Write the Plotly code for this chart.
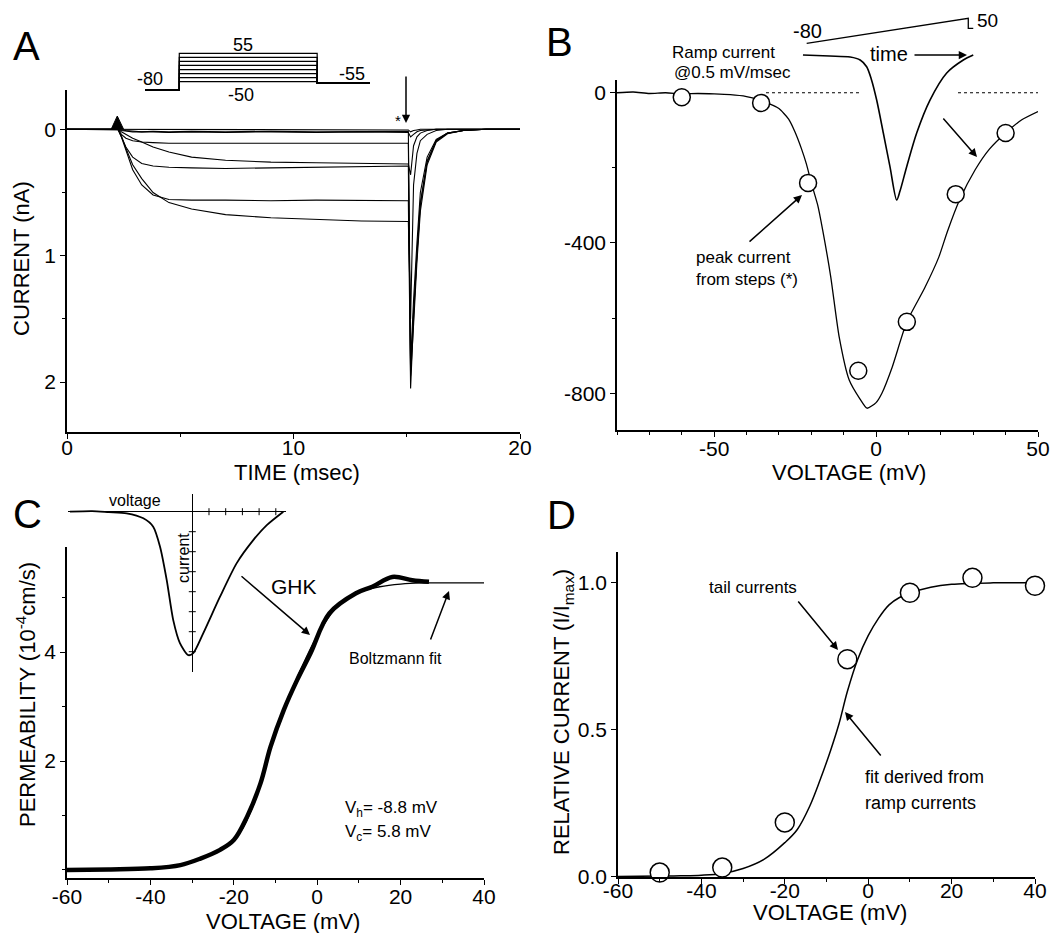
import plotly.graph_objects as go

# the page body adds an 8px margin, so the figure is drawn 8px smaller and positions are shifted
OFF = 8
W, H = 1062 - OFF, 933 - OFF
FONT = "Liberation Sans, Arial, Helvetica, sans-serif"

def px(x):
    return (x - OFF) / W

def py(y):
    return 1 - (y - OFF) / H

# ---------------- Panel A : currents (nA) vs time (ms) ----------------
T_A = [0, 2.0, 2.25, 2.4, 2.6, 2.9, 3.3, 3.8, 4.5, 5.5, 7.0, 9.0, 11.0, 13.0,
       15.07, 15.17, 15.22, 15.3, 15.45, 15.6, 15.9, 16.3, 16.8, 17.5, 18.5, 20.0]
I_STEP_M50 = [0, 0, 0, 0, 0, 0, 0, 0.005, 0, 0.005, 0, 0.005, 0, 0.005, 0.005,
              0.02, 0.015, 0.01, 0.005, 0, 0, 0, 0, 0, 0, 0]
I_STEP_M35 = [0, 0, 0, 0.005, 0.01, 0.015, 0.02, 0.02, 0.025, 0.02, 0.025, 0.02, 0.025, 0.02, 0.025,
              0.06, 0.05, 0.04, 0.02, 0.01, 0.005, 0, 0, 0, 0, 0]
I_STEP_M20 = [0, 0, 0, 0.02, 0.04, 0.07, 0.10, 0.14, 0.18, 0.22, 0.245, 0.26, 0.265, 0.27, 0.275,
              0.36, 0.25, 0.13, 0.06, 0.03, 0.01, 0, 0, 0, 0, 0]
I_STEP_M5 = [0, 0, 0, 0.05, 0.15, 0.28, 0.39, 0.50, 0.58, 0.63, 0.675, 0.70, 0.715, 0.725, 0.73,
             1.5, 1.09, 0.44, 0.19, 0.09, 0.04, 0.01, 0, 0, 0, 0]
I_STEP_10 = [0, 0, 0, 0.06, 0.17, 0.32, 0.44, 0.52, 0.555, 0.56, 0.56, 0.565, 0.56, 0.565, 0.565,
             2.05, 1.8, 1.5, 0.98, 0.58, 0.25, 0.09, 0.03, 0.01, 0, 0]
I_STEP_25 = [0, 0, 0, 0.06, 0.14, 0.22, 0.27, 0.29, 0.30, 0.305, 0.31, 0.305, 0.30, 0.295, 0.29,
             1.95, 1.75, 1.55, 1.05, 0.65, 0.28, 0.10, 0.035, 0.01, 0, 0]
I_STEP_40 = [0, 0, 0, 0.04, 0.07, 0.09, 0.10, 0.105, 0.11, 0.11, 0.11, 0.11, 0.11, 0.11, 0.11,
             1.9, 1.7, 1.45, 1.0, 0.6, 0.26, 0.09, 0.03, 0.01, 0, 0]
I_STEP_55 = [0, 0, 0, 0.01, 0.015, 0.02, 0.02, 0.015, 0.02, 0.015, 0.02, 0.015, 0.02, 0.015, 0.015,
             1.85, 1.6, 1.35, 0.9, 0.5, 0.22, 0.08, 0.03, 0.01, 0, 0]
A_TRACES = [I_STEP_M50, I_STEP_M35, I_STEP_M20, I_STEP_M5, I_STEP_10, I_STEP_25, I_STEP_40, I_STEP_55]
ARTIFACT_T = [1.95, 2.22, 2.5]
ARTIFACT_I = [0, -0.105, 0]

# protocol (inset of A)
PROTO_LEVELS = [-50, -35, -20, -5, 10, 25, 40, 55]
PROTO_HOLD = -80
PROTO_TAIL = -55
PROTO_TIMES = [-1.0, 2.2, 15.07, 20.0]

# ---------------- Panel B : ramp I-V (pA vs mV) ----------------
B_V = [-80, -75, -70, -65, -60, -55, -50, -45, -40, -37, -35, -32, -30, -27, -25, -23, -21.5, -20,
       -18, -16.5, -14, -11.4, -8.3, -5, -2.8, 0, 1.8, 5, 9.5, 15, 19.4, 22, 25.8, 30.6, 35, 40, 45, 50]
B_I = [0, 2, -2, 0, -3, -2, -3, -5, -10, -16, -22, -33, -42, -70, -105, -150, -190, -240,
       -300, -365, -490, -650, -765, -815, -840, -825, -800, -730, -610, -520, -437, -370, -285,
       -205, -150, -107, -72, -50]
B_STEP_V = [-60, -35.5, -21, -5.5, 9.5, 24.6, 40]
B_STEP_I = [-12, -27, -240, -740, -610, -270, -107]
B_ZERO_V = [-34, -4.5, None, 25.3, 50]
B_ZERO_I = [0, 0, None, 0, 0]
# inset: ramp current vs time (ms) and ramp voltage
INSET_B_T = [-6, 37, 70, 86, 96.5, 104, 112.6, 123.3, 134, 144.8, 150, 160.9, 177, 198.4, 225.3, 252, 268]
INSET_B_I = [0, -6, -12, -29, -68, -140, -261, -452, -647, -840, -790, -647, -452, -261, -104, -29, 0]
RAMP_T = [0, 260, 260, 268]
RAMP_V = [-80, 50, -2, -2]

# ---------------- Panel C : permeability ----------------
C_V = [-60, -50, -40, -32.8, -28, -23.3, -20, -16.8, -13.6, -11.2, -8, -4.8, -1.6, 2.9, 9.3,
       13.2, 18, 22.8, 26.8]
C_P = [0.0, 0.01, 0.03, 0.09, 0.21, 0.37, 0.55, 0.98, 1.59, 2.26, 2.94, 3.49, 3.98, 4.71, 5.08,
       5.2, 5.38, 5.32, 5.29]
C_FIT_V = [-60, -40, -30, -20, -15, -10, -5, 0, 5, 10, 15, 20, 25, 30, 35, 40]
C_FIT_P = [0.0, 0.03, 0.15, 0.55, 1.25, 2.55, 3.5, 4.3, 4.85, 5.1, 5.2, 5.25, 5.27, 5.27, 5.27, 5.27]
# inset of C: I-V with crossing axes
INSET_C_V = [-73.2, -60, -50, -39.3, -29.3, -23.4, -19.3, -15.3, -11.4, -7.4, -2.4, 0.6, 6.6, 16.6,
             26.6, 36.5, 44.6, 54.5]
INSET_C_I = [0, 3, -2, -8, -33, -75, -175, -342, -542, -657, -717, -707, -607, -425, -257, -142, -67, 0]
INSET_C_VTICKS = [10, 20, 30, 40, 50]
INSET_C_ITICKS = [-100, -200, -300, -400, -500, -600, -700]

# ---------------- Panel D : relative tail current ----------------
D_STEP_V = [-50, -35, -20, -5, 10, 25, 40]
D_TAIL = [0.013, 0.03, 0.184, 0.74, 0.966, 1.017, 0.99]
D_FIT_V = [-60, -50, -45, -40, -35, -30, -25, -20, -17, -14, -11.5, -9, -7, -5, -2.5, 0, 2.5, 5,
           7.5, 10, 15, 20, 30, 40]
D_FIT_R = [0.0, 0.001, 0.002, 0.004, 0.01, 0.027, 0.058, 0.115, 0.16, 0.24, 0.33, 0.43, 0.52, 0.63,
           0.74, 0.82, 0.88, 0.925, 0.95, 0.965, 0.985, 0.995, 1.0, 1.0]

# tick labels
A_XTICKS = [0, 10, 20]
A_YTICKS = [0, 1, 2]
B_XTICKS = [-50, 0, 50]
B_YTICKS = [0, -400, -800]
C_XTICKS = [-60, -40, -20, 0, 20, 40]
C_YTICKS = [2, 4]
D_XTICKS = [-60, -40, -20, 0, 20, 40]
D_YTICKS = [0.0, 0.5, 1.0]


def lab(v, fmt="{:g}"):
    s = fmt.format(abs(v))
    return ("-" + s) if v < 0 else s


fig = go.Figure()
BLACK = "black"

# Panel A traces
for series in A_TRACES:
    fig.add_trace(go.Scatter(x=T_A, y=series, mode="lines", line=dict(color=BLACK, width=1.1),
                             xaxis="x", yaxis="y", hoverinfo="skip"))
fig.add_trace(go.Scatter(x=ARTIFACT_T, y=ARTIFACT_I, mode="lines", fill="toself", fillcolor=BLACK,
                         line=dict(color=BLACK, width=1), xaxis="x", yaxis="y"))
# protocol inset
for lvl in PROTO_LEVELS:
    fig.add_trace(go.Scatter(
        x=[PROTO_TIMES[0], PROTO_TIMES[1], PROTO_TIMES[1], PROTO_TIMES[2], PROTO_TIMES[2], PROTO_TIMES[3]],
        y=[PROTO_HOLD, PROTO_HOLD, lvl, lvl, PROTO_TAIL, PROTO_TAIL],
        mode="lines", line=dict(color=BLACK, width=1.2), xaxis="x5", yaxis="y5"))

# Panel B
fig.add_trace(go.Scatter(x=B_ZERO_V, y=B_ZERO_I, mode="lines", line=dict(color=BLACK, width=1.2, dash="dot"),
                         xaxis="x2", yaxis="y2"))
fig.add_trace(go.Scatter(x=B_V, y=B_I, mode="lines", line=dict(color=BLACK, width=1.3, shape="spline", smoothing=0.6),
                         xaxis="x2", yaxis="y2"))
fig.add_trace(go.Scatter(x=B_STEP_V, y=B_STEP_I, mode="markers", cliponaxis=False,
                         marker=dict(symbol="circle", size=17, color="white", line=dict(color=BLACK, width=1.5)),
                         xaxis="x2", yaxis="y2"))
fig.add_trace(go.Scatter(x=INSET_B_T, y=INSET_B_I, mode="lines",
                         line=dict(color=BLACK, width=1.6, shape="spline", smoothing=0.8),
                         xaxis="x6", yaxis="y6"))
fig.add_trace(go.Scatter(x=RAMP_T, y=RAMP_V, mode="lines", line=dict(color=BLACK, width=1.3),
                         xaxis="x7", yaxis="y7"))

# Panel C
fig.add_trace(go.Scatter(x=C_FIT_V, y=C_FIT_P, mode="lines", line=dict(color=BLACK, width=1.3, shape="spline"),
                         xaxis="x3", yaxis="y3"))
fig.add_trace(go.Scatter(x=C_V, y=C_P, mode="lines", line=dict(color=BLACK, width=4.5, shape="spline"),
                         xaxis="x3", yaxis="y3"))
fig.add_trace(go.Scatter(x=INSET_C_V, y=INSET_C_I, mode="lines",
                         line=dict(color=BLACK, width=1.8, shape="spline", smoothing=0.7),
                         xaxis="x8", yaxis="y8"))
fig.add_trace(go.Scatter(x=INSET_C_VTICKS, y=[0] * len(INSET_C_VTICKS), mode="markers",
                         marker=dict(symbol="line-ns", size=5, line=dict(color=BLACK, width=1)),
                         xaxis="x8", yaxis="y8"))
fig.add_trace(go.Scatter(x=[0] * len(INSET_C_ITICKS), y=INSET_C_ITICKS, mode="markers",
                         marker=dict(symbol="line-ew", size=5, line=dict(color=BLACK, width=1)),
                         xaxis="x8", yaxis="y8"))

# Panel D
fig.add_trace(go.Scatter(x=D_FIT_V, y=D_FIT_R, mode="lines", line=dict(color=BLACK, width=1.5, shape="spline"),
                         xaxis="x4", yaxis="y4"))
fig.add_trace(go.Scatter(x=D_STEP_V, y=D_TAIL, mode="markers", cliponaxis=False,
                         marker=dict(symbol="circle", size=19, color="white", line=dict(color=BLACK, width=1.5)),
                         xaxis="x4", yaxis="y4"))

TICKFONT = dict(family=FONT, size=21, color=BLACK)


def main_axis(dom, rng, tickvals, ticktext, minor_vals, anchor, standoff=0):
    return dict(domain=dom, range=rng, anchor=anchor, showline=True, linecolor=BLACK, linewidth=1.5,
                showgrid=False, zeroline=False, ticks="outside", ticklen=5, tickwidth=1.3, tickcolor=BLACK,
                tickmode="array", tickvals=tickvals, ticktext=ticktext, tickfont=TICKFONT,
                ticklabelstandoff=standoff, automargin=False,
                minor=dict(tickmode="array", tickvals=minor_vals, ticks="outside", ticklen=3,
                           tickwidth=1, tickcolor=BLACK),
                fixedrange=True)


def hidden_axis(dom, rng, anchor):
    return dict(domain=dom, range=rng, anchor=anchor, visible=False, automargin=False, fixedrange=True)


layout = dict(
    width=W, height=H, margin=dict(l=0, r=0, t=0, b=0, pad=0, autoexpand=False), showlegend=False,
    paper_bgcolor="white", plot_bgcolor="rgba(0,0,0,0)",
    font=dict(family=FONT, color=BLACK),
)

# Panel A axes (y reversed: inward current plotted downward)
layout["xaxis"] = main_axis([px(67), px(520)], [0, 20], A_XTICKS, [lab(v) for v in A_XTICKS], [5, 15], "y", -9)
layout["yaxis"] = main_axis([py(432), py(90)], [2.395, -0.311], A_YTICKS, [lab(v) for v in A_YTICKS],
                            [0.5, 1.5], "x")
# Panel B axes
layout["xaxis2"] = main_axis([px(617), px(1038)], [-80, 50], B_XTICKS, [lab(v) for v in B_XTICKS],
                             [-80, -70, -60, -40, -30, -20, -10, 10, 20, 30, 40], "y2", -6)
layout["yaxis2"] = main_axis([py(430), py(80)], [-898, 34], B_YTICKS, [lab(v) for v in B_YTICKS],
                             [-200, -600], "x2")
# Panel C axes
layout["xaxis3"] = main_axis([px(67), px(484)], [-60, 40], C_XTICKS, [lab(v) for v in C_XTICKS],
                             [-50, -30, -10, 10, 30], "y3", -6)
layout["yaxis3"] = main_axis([py(878), py(547)], [-0.147, 5.93], C_YTICKS, [lab(v) for v in C_YTICKS],
                             [0, 1, 3, 5], "x3")
# Panel D axes
layout["xaxis4"] = main_axis([px(618), px(1035)], [-60, 40], D_XTICKS, [lab(v) for v in D_XTICKS],
                             [-50, -30, -10, 10, 30], "y4", -11)
layout["yaxis4"] = main_axis([py(877), py(552)], [-0.002, 1.105], D_YTICKS,
                             [lab(v, "{:.1f}") for v in D_YTICKS], [], "x4")
# inset axes
layout["xaxis5"] = hidden_axis([px(145), px(370)], [-1, 20], "y5")
layout["yaxis5"] = hidden_axis([py(95), py(45)], [-99.2, 85.7], "x5")
layout["xaxis6"] = hidden_axis([px(795), px(985)], [-18.8, 286.9], "y6")
layout["yaxis6"] = hidden_axis([py(210), py(10)], [-898, 260.7], "x6")
layout["xaxis7"] = hidden_axis([px(795), px(985)], [-18.8, 286.9], "y7")
layout["yaxis7"] = hidden_axis([py(210), py(10)], [-946.9, 93.2], "x7")
layout["xaxis8"] = dict(domain=[px(68), px(286)], range=[-74.4, 56.1], anchor="y8", showline=False,
                        showgrid=False, showticklabels=False, ticks="", zeroline=True, automargin=False,
                        zerolinecolor=BLACK, zerolinewidth=1.2, fixedrange=True)
layout["yaxis8"] = dict(domain=[py(672), py(494)], range=[-801.5, 88.5], anchor="x8", showline=False,
                        showgrid=False, showticklabels=False, ticks="", zeroline=True, automargin=False,
                        zerolinecolor=BLACK, zerolinewidth=1.2, fixedrange=True)


def text(x, y, s, size=17, angle=0, xanchor="center"):
    return dict(x=px(x), y=py(y), xref="paper", yref="paper", text=s, showarrow=False,
                font=dict(size=size, family=FONT, color=BLACK), textangle=angle,
                xanchor=xanchor, yanchor="middle")


def arrow(x0, y0, x1, y1):
    return dict(x=px(x1), y=py(y1), xref="paper", yref="paper", ax=x0 - x1, ay=y0 - y1,
                axref="pixel", ayref="pixel", showarrow=True, arrowhead=2, arrowsize=1.1,
                arrowwidth=1.5, arrowcolor=BLACK, text="", standoff=0)


ann = [
    text(26, 46, "A", 40), text(559, 42, "B", 40), text(27, 514, "C", 40), text(561, 515, "D", 40),
    # axis titles
    text(297, 472, "TIME (msec)", 22), text(849, 472, "VOLTAGE (mV)", 22),
    text(283, 921, "VOLTAGE (mV)", 22), text(830, 912, "VOLTAGE (mV)", 22),
    text(21, 259, "CURRENT (nA)", 22, angle=-90),
    text(26, 695, "PERMEABILITY (10<sup>-4</sup>cm/s)", 22, angle=-90),
    text(563, 712, "RELATIVE CURRENT (I/I<sub>max</sub>)", 22, angle=-90),
    # panel A
    text(150, 79, "-80", 18), text(243, 45, "55", 18), text(241, 95, "-50", 18), text(352, 74, "-55", 18),
    text(398, 121, "*", 15),
    arrow(406, 75, 406, 123),
    # panel B
    text(723, 53, "Ramp current", 17), text(732, 73, "@0.5 mV/msec", 17),
    text(807, 31, "-80", 20), text(987, 21, "50", 19), text(889, 54, "time", 20),
    arrow(913, 55, 967, 55),
    arrow(942, 117, 977, 157),
    text(694, 257, "peak current", 17, xanchor="left"), text(694, 279, "from steps (*)", 17, xanchor="left"),
    arrow(748, 243, 802, 195),
    # panel C
    text(135, 500, "voltage", 16), text(183, 558, "current", 16, angle=-90),
    text(294, 586, "GHK", 21), arrow(240, 575, 310, 635),
    text(395, 658, "Boltzmann fit", 16), arrow(430, 641, 449, 591),
    text(343, 809, "V<sub>h</sub>= -8.8 mV", 17, xanchor="left"),
    text(343, 833, "V<sub>c</sub>= 5.8 mV", 17, xanchor="left"),
    # panel D
    text(753, 587, "tail currents", 17), arrow(797, 600, 838, 650),
    text(924, 777, "fit derived from", 18), text(920, 803, "ramp currents", 18),
    arrow(882, 757, 845, 712),
]
layout["annotations"] = ann
fig.update_layout(**layout)

fig.write_html("out.html", include_plotlyjs=True, config={"displayModeBar": False})
